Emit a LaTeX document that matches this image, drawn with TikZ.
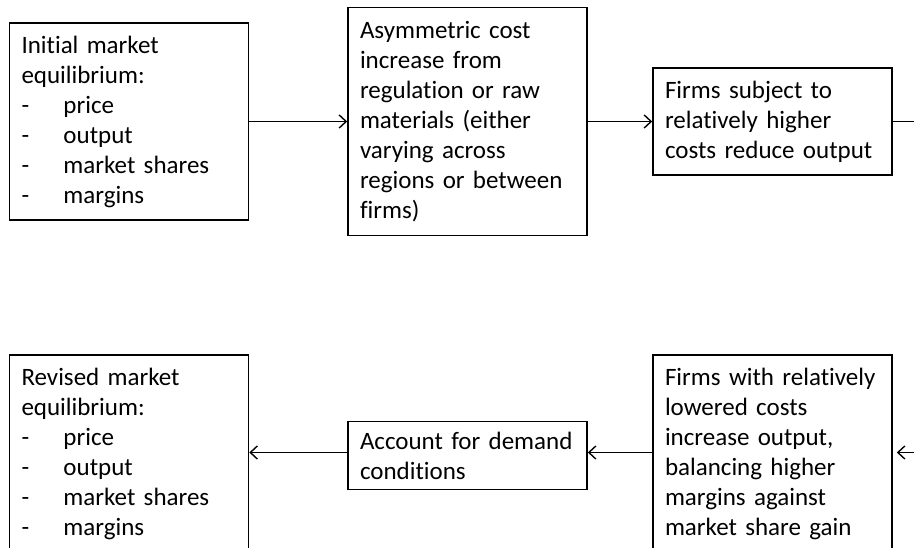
\documentclass[tikz,border=0pt]{standalone}
\usepackage{fontspec}
\setmainfont{Carlito}[Ligatures=NoCommon]
\usetikzlibrary{arrows.meta}

\hyphenpenalty=10000
\exhyphenpenalty=10000
\newcommand{\itm}[1]{\makebox[42pt][l]{-}#1}

\begin{document}
\begin{tikzpicture}[x=1pt,y=-1pt,
    box/.style={draw=black,line width=1.6pt,align=left,text width=215pt,
      inner xsep=12pt,inner ysep=0pt,minimum width=239pt,
      font=\fontsize{25pt}{30pt}\selectfont},
    arr/.style={-{Straight Barb[length=7pt,width=13pt]},line width=1.4pt}]
                  \clip (0,0) rectangle (914,548);
                  % boxes, top row
                  \node[box,minimum height=197pt] (init) at (129,121.5) {Initial market\\equilibrium:\\\itm{price}\\\itm{output}\\\itm{market shares}\\\itm{margins}};
                  \node[box,minimum height=228pt] (shock) at (467.5,121.5) {Asymmetric cost\\increase from\\regulation or raw\\materials (either\\varying across\\regions or between\\firms)};
                  \node[box,minimum height=107pt] (cut) at (772.5,121.5) {Firms subject to\\relatively higher\\costs reduce output};
                  
                  % boxes, bottom row
                  \node[box,minimum height=197pt] (gain) at (772.5,453.5) {Firms with relatively\\lowered costs\\increase output,\\balancing higher\\margins against\\market share gain};
                  \node[box,minimum height=68pt] (demand) at (467.5,455.5) {Account for demand\\conditions};
                  \node[box,minimum height=197pt] (revised) at (129,453.5) {Revised market\\equilibrium:\\\itm{price}\\\itm{output}\\\itm{market shares}\\\itm{margins}};
                  
                  % loose ends at the right edge
                  \coordinate (outR) at (914,121.5);
                  \coordinate (inR) at (914,452.5);
                  
                  % arrows
                  \path [arr](init) edge (shock);
                  \path [arr](shock) edge (cut);
                  \draw [line width=1.4pt](cut.east) -- (outR);
                  \draw [arr,shorten >=4pt](inR) -- (inR -| gain.east);
                  \draw [arr](inR -| gain.west) -- (inR -| demand.east);
                  \draw [arr](inR -| demand.west) -- (inR -| revised.east);
              \end{tikzpicture}
\end{document}
